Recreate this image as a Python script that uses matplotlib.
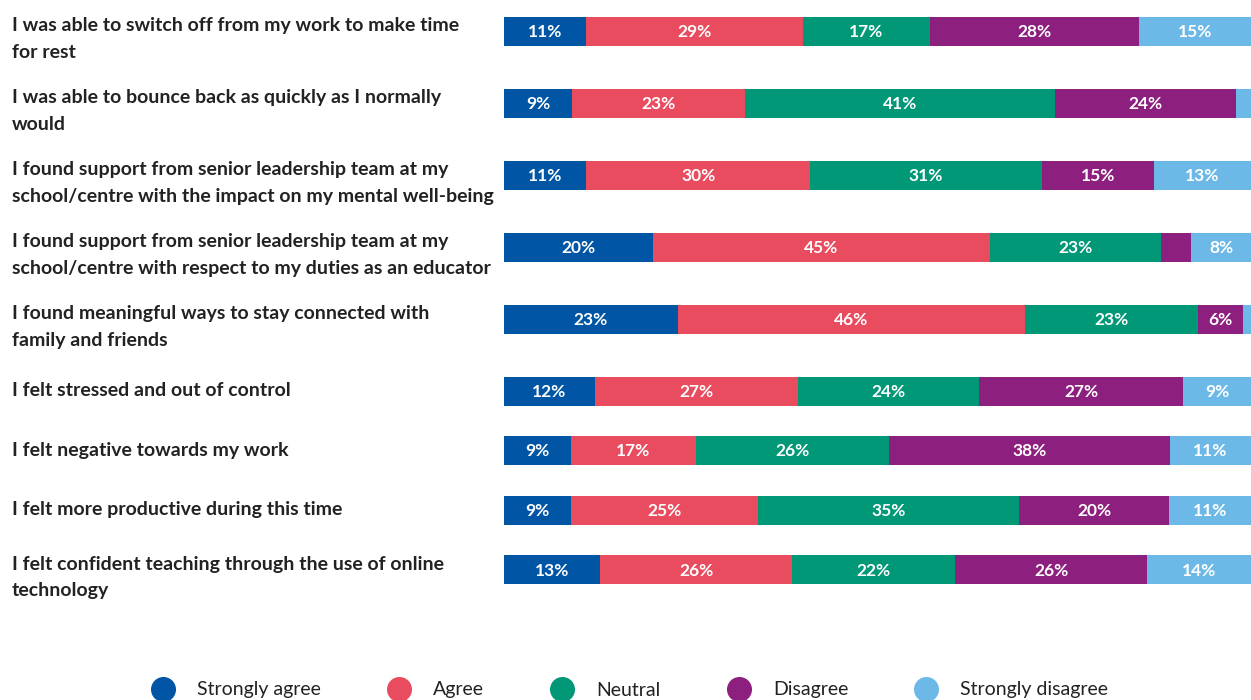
import numpy as np
import matplotlib.pyplot as plt
from matplotlib.lines import Line2D
from matplotlib.transforms import blended_transform_factory

statements = [
    "I was able to switch off from my work to make time\nfor rest",
    "I was able to bounce back as quickly as I normally\nwould",
    "I found support from senior leadership team at my\nschool/centre with the impact on my mental well-being",
    "I found support from senior leadership team at my\nschool/centre with respect to my duties as an educator",
    "I found meaningful ways to stay connected with\nfamily and friends",
    "I felt stressed and out of control",
    "I felt negative towards my work",
    "I felt more productive during this time",
    "I felt confident teaching through the use of online\ntechnology",
]
categories = ["Strongly agree", "Agree", "Neutral", "Disagree", "Strongly disagree"]
strongly_agree = [11, 9, 11, 20, 23, 12, 9, 9, 13]
agree = [29, 23, 30, 45, 46, 27, 17, 25, 26]
neutral = [17, 41, 31, 23, 23, 24, 26, 35, 22]
disagree = [28, 24, 15, 4, 6, 27, 38, 20, 26]
strongly_disagree = [15, 2, 13, 8, 1, 9, 11, 11, 14]

colors = ["#0055a5", "#e94c5f", "#009877", "#8d1f7e", "#6cb9e8"]
text_color = "#222222"

series = np.array([strongly_agree, agree, neutral, disagree, strongly_disagree], dtype=float)
totals = series.sum(axis=0)
shares = series / totals * 100  # each row fills the full width

# row centres in pixels: taller gap after a two-line label
ys = [31.0]
for s in statements[:-1]:
    ys.append(ys[-1] + (72 if "\n" in s else 59.5))
ys = np.array(ys)

W, H = 1251, 700
fig = plt.figure(figsize=(W / 100, H / 100), dpi=100)
ax = fig.add_axes([504 / W, 0, 747 / W, 1])
ax.set_xlim(0, 100)
ax.set_ylim(H, 0)
ax.axis("off")

left = np.zeros(len(statements))
for i, cat in enumerate(categories):
    ax.barh(ys, shares[i], left=left, height=29, color=colors[i], label=cat)
    for y, l, w, v in zip(ys, left, shares[i], series[i]):
        if v >= 5:
            ax.text(l + w / 2, y + 1, f"{v:.0f}%", ha="center", va="center",
                    color="white", fontsize=12.5, fontweight="bold", family="Lato")
    left += shares[i]

trans = blended_transform_factory(fig.transFigure, ax.transData)
for y, s in zip(ys, statements):
    off = 8 if "\n" in s else 0
    ax.text(12 / W, y + off, s, transform=trans, ha="left", va="center",
            fontsize=14, fontweight="bold", family="Lato", color=text_color,
            linespacing=1.65)

handles = [Line2D([], [], marker="o", linestyle="none", markersize=17,
                  markerfacecolor=c, markeredgecolor=c) for c in colors]
fig.legend(handles, categories, loc="center", bbox_to_anchor=(626 / W, 10 / H),
           ncol=5, frameon=False, handletextpad=0.75, columnspacing=3.02,
           prop={"family": "Lato", "size": 14}, labelcolor=text_color)

fig.savefig("out.png", dpi=100)
